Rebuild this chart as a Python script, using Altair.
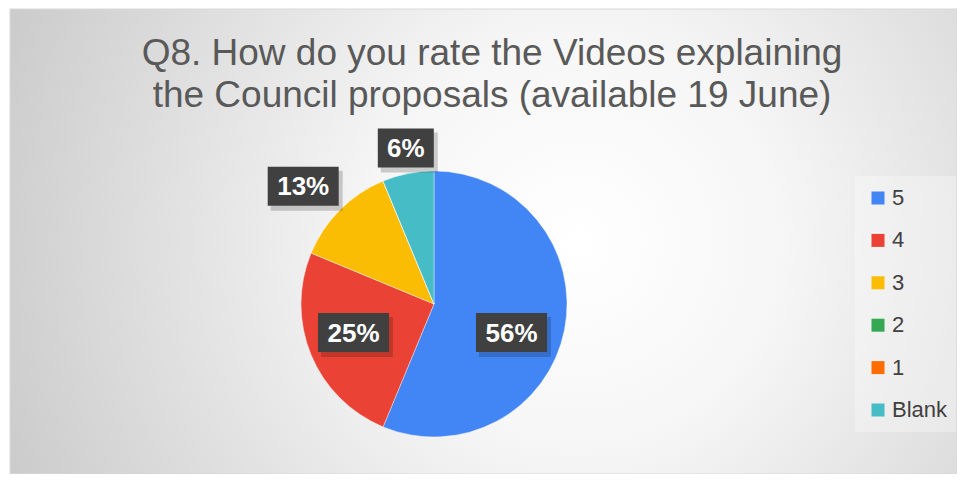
import altair as alt
import pandas as pd

# ---- data ----
categories = ["5", "4", "3", "2", "1", "Blank"]
counts = [9, 4, 2, 0, 0, 1]
colors = ["#4285F4", "#EA4335", "#FBBC04", "#34A853", "#FF6D01", "#46BDC6"]
title_lines = ["Q8. How do you rate the Videos explaining",
               "the Council proposals (available 19 June)"]

# ---- layout / style ----
W, H = 949, 466
CX, CY, R = 426, 296, 133
FONT = "Liberation Sans"
# best-fit label placement (radius from centre, angular nudge in degrees)
label_r = {"5": 82.6, "4": 85.4, "3": 176, "2": 80, "1": 80, "Blank": 158.5}
label_nudge = {"5": 9, "4": 3, "3": -3, "2": 0, "1": 0, "Blank": 1}


def lookup_expr(d):
    expr = "0"
    for k, v in d.items():
        expr = f"datum.cat === '{k}' ? {v} : ({expr})"
    return expr


df = pd.DataFrame({"cat": categories, "count": counts, "idx": list(range(len(categories)))})

xs = alt.Scale(domain=[0, W], range=[0, W], nice=False, zero=False)
ys = alt.Scale(domain=[0, H], range=[0, H], nice=False, zero=False)

one = pd.DataFrame({"a": [0]})

background = alt.Chart(one).mark_rect(
    color=alt.RadialGradient(
        gradient="radial",
        x1=0.6, y1=0.5, r1=0.0,
        x2=0.6, y2=0.5, r2=0.72,
        stops=[alt.GradientStop(color="#ffffff", offset=0),
               alt.GradientStop(color="#f6f6f6", offset=0.3),
               alt.GradientStop(color="#c4c4c4", offset=1)],
    ),
    stroke="#d9d9d9", strokeWidth=1,
).encode(x=alt.value(2), x2=alt.value(W), y=alt.value(1), y2=alt.value(H))

title = alt.Chart(pd.DataFrame({"t": ["\n".join(title_lines)]})).mark_text(
    font=FONT, fontSize=37, color="#595959", align="center", baseline="alphabetic",
    lineBreak="\n", lineHeight=42,
).encode(text="t:N", x=alt.value(484), y=alt.value(57))

legend_box = alt.Chart(one).mark_rect(
    fill="#ffffff", fillOpacity=0.3,
).encode(x=alt.value(847), x2=alt.value(948), y=alt.value(168), y2=alt.value(424))

pie = alt.Chart(df).mark_arc(outerRadius=R, stroke="#ffffff", strokeWidth=0.4).encode(
    theta=alt.Theta("count:Q", stack=True),
    color=alt.Color(
        "cat:N",
        scale=alt.Scale(domain=categories, range=colors),
        legend=alt.Legend(
            title=None, orient="none", legendX=847, legendY=167, direction="vertical",
            symbolType="square", symbolSize=169, symbolStrokeWidth=0, symbolOpacity=1,
            labelFontSize=22, labelFont=FONT, labelColor="#404040", labelOffset=3,
            rowPadding=20.4, padding=12,
        ),
    ),
    order=alt.Order("idx:Q"),
    x=alt.value(CX), y=alt.value(CY),
)

lab = (
    alt.Chart(df)
    .transform_joinaggregate(total="sum(count)")
    .transform_window(cum="sum(count)", sort=[alt.SortField("idx")], frame=[None, 0])
    .transform_filter("datum.count > 0")
    .transform_calculate(
        label="round(datum.count / datum.total * 100) + '%'",
        lr=lookup_expr(label_r),
        ang=f"(datum.cum - datum.count / 2) / datum.total * 2 * PI + ({lookup_expr(label_nudge)}) * PI / 180",
    )
    .transform_calculate(
        px=f"{CX} + datum.lr * sin(datum.ang)",
        py=f"{CY} - datum.lr * cos(datum.ang)",
        bw="15 * length(datum.label) + 26",
    )
    .transform_calculate(
        bx0="datum.px - datum.bw / 2", bx1="datum.px + datum.bw / 2",
        by0="datum.py - 19.5", by1="datum.py + 19.5",
        sx0="datum.px - datum.bw / 2 + 3", sx1="datum.px + datum.bw / 2 + 4",
        sy0="datum.py - 19.5 + 4", sy1="datum.py + 19.5 + 5",
    )
)

shadow = lab.mark_rect(fill="#000000", fillOpacity=0.18).encode(
    x=alt.X("sx0:Q", scale=xs, axis=None), x2="sx1:Q",
    y=alt.Y("sy0:Q", scale=ys, axis=None), y2="sy1:Q",
)
boxes = lab.mark_rect(fill="#404040").encode(
    x=alt.X("bx0:Q", scale=xs, axis=None), x2="bx1:Q",
    y=alt.Y("by0:Q", scale=ys, axis=None), y2="by1:Q",
)
texts = lab.mark_text(
    font=FONT, fontSize=26, fontWeight="bold", color="#ffffff",
    align="center", baseline="middle", dy=1,
).encode(
    x=alt.X("px:Q", scale=xs, axis=None),
    y=alt.Y("py:Q", scale=ys, axis=None),
    text="label:N",
)

chart = (
    alt.layer(background, title, legend_box, pie, shadow, boxes, texts)
    .properties(width=W, height=H, autosize=alt.AutoSizeParams(type="none"), padding=0)
    .configure_view(stroke=None)
)

chart.save("out.html", embed_options={"renderer": "svg", "actions": False})
